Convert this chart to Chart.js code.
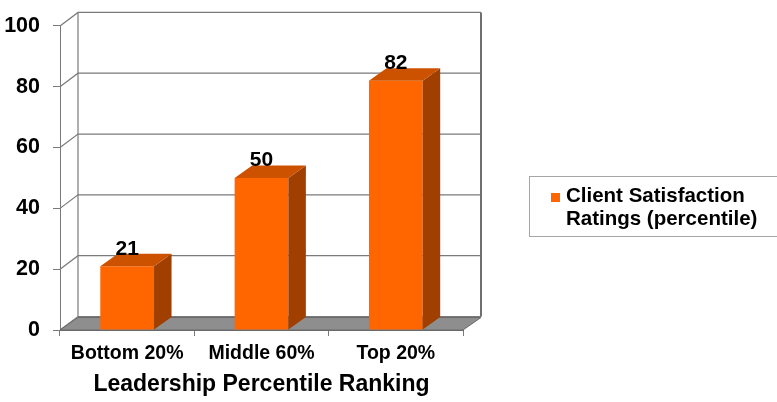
<!DOCTYPE html>
<html>
<head>
<meta charset="utf-8">
<script src="https://cdn.jsdelivr.net/npm/chart.js@4"></script>
<style>
  html, body { margin: 0; padding: 0; background: #fff; }
  #wrap { width: 777px; height: 402px; }
</style>
</head>
<body>
<div id="wrap"><canvas id="leaderChart" width="777" height="402"></canvas></div>
<script>
// data
const categories = ['Bottom 20%', 'Middle 60%', 'Top 20%'];
const satisfaction = [21, 50, 82];
const seriesName = 'Client Satisfaction Ratings (percentile)';
const legendLines = ['Client Satisfaction', 'Ratings (percentile)'];
const yTicks = [0, 20, 40, 60, 80, 100];
const xTitle = 'Leadership Percentile Ranking';

const FONT = "'Liberation Sans', Arial, sans-serif";
Chart.defaults.font.family = FONT;

const orange = '#FF6600';
const orangeTop = '#CC5200';
const orangeSide = '#A03F00';
const gridGray = '#7A7A7A';

// fake 3d: walls, floor, bar sides and tops
const depth3d = {
  id: 'depth3d',
  beforeDatasetsDraw(chart) {
    const { ctx, chartArea: a, scales: { y } } = chart;
    const dx = 18, dy = -13.5;
    ctx.save();
    ctx.strokeStyle = gridGray;
    ctx.lineWidth = 1.2;
    y.ticks.forEach(t => {
      const yy = y.getPixelForValue(t.value);
      ctx.beginPath();
      ctx.moveTo(a.left, yy);
      ctx.lineTo(a.left + dx, yy + dy);
      ctx.lineTo(a.right + dx, yy + dy);
      ctx.stroke();
    });
    // back wall edges
    ctx.beginPath();
    ctx.moveTo(a.left + dx, a.top + dy);
    ctx.lineTo(a.left + dx, a.bottom + dy);
    ctx.stroke();
    ctx.lineWidth = 2;
    ctx.strokeStyle = '#707070';
    ctx.beginPath();
    ctx.moveTo(a.right + dx, a.top + dy);
    ctx.lineTo(a.right + dx, a.bottom + dy);
    ctx.stroke();
    // floor
    const fdy = -12.5;
    ctx.fillStyle = '#8E8E8E';
    ctx.strokeStyle = '#6A6A6A';
    ctx.lineWidth = 1;
    ctx.beginPath();
    ctx.moveTo(a.left, a.bottom);
    ctx.lineTo(a.right, a.bottom);
    ctx.lineTo(a.right + dx, a.bottom + fdy);
    ctx.lineTo(a.left + dx, a.bottom + fdy);
    ctx.closePath();
    ctx.fill();
    ctx.stroke();
    ctx.restore();
  },
  afterDatasetsDraw(chart) {
    const { ctx } = chart;
    const bdx = 17.5, bdy = -12.5;
    const meta = chart.getDatasetMeta(0);
    ctx.save();
    meta.data.forEach((bar, i) => {
      const p = bar.getProps(['x', 'y', 'base', 'width'], true);
      const l = p.x - p.width / 2, r = p.x + p.width / 2;
      // side
      ctx.fillStyle = orangeSide;
      ctx.beginPath();
      ctx.moveTo(r, p.y);
      ctx.lineTo(r + bdx, p.y + bdy);
      ctx.lineTo(r + bdx, p.base + bdy);
      ctx.lineTo(r, p.base);
      ctx.closePath();
      ctx.fill();
      // top
      ctx.fillStyle = orangeTop;
      ctx.beginPath();
      ctx.moveTo(l, p.y);
      ctx.lineTo(l + bdx, p.y + bdy);
      ctx.lineTo(r + bdx, p.y + bdy);
      ctx.lineTo(r, p.y);
      ctx.closePath();
      ctx.fill();
      // value label
      ctx.fillStyle = '#000';
      ctx.font = 'bold 21px ' + FONT;
      ctx.textAlign = 'center';
      ctx.textBaseline = 'alphabetic';
      ctx.fillText(String(chart.data.datasets[0].data[i]), p.x, p.y + bdy + 1);
    });
    ctx.restore();
  },
  afterDraw(chart) {
    // legend box on the right
    const { ctx } = chart;
    ctx.save();
    ctx.strokeStyle = '#A6A6A6';
    ctx.lineWidth = 1;
    ctx.strokeRect(529.5, 176.5, 260, 60);
    ctx.fillStyle = orange;
    ctx.fillRect(551, 193, 9, 9);
    ctx.fillStyle = '#000';
    ctx.font = 'bold 20.5px ' + FONT;
    ctx.textAlign = 'left';
    ctx.textBaseline = 'alphabetic';
    legendLines.forEach((line, i) => ctx.fillText(line, 566, 201.5 + i * 23.5));
    ctx.restore();
  }
};

new Chart(document.getElementById('leaderChart'), {
  type: 'bar',
  data: {
    labels: categories,
    datasets: [{
      label: seriesName,
      data: satisfaction,
      backgroundColor: orange,
      borderWidth: 0,
      categoryPercentage: 1,
      barPercentage: 0.4
    }]
  },
  options: {
    responsive: false,
    animation: false,
    events: [],
    layout: { padding: { top: 17, right: 314, left: 0, bottom: 0 } },
    plugins: {
      legend: { display: false },
      tooltip: { enabled: false }
    },
    scales: {
      y: {
        min: yTicks[0],
        max: yTicks[yTicks.length - 1],
        afterBuildTicks: s => { s.ticks = yTicks.map(v => ({ value: v })); },
        afterFit: s => { s.width = 60; },
        ticks: { color: '#000', font: { size: 21.5, weight: 'bold' }, padding: 13 },
        grid: { drawOnChartArea: false, tickLength: 7, color: gridGray },
        border: { color: gridGray }
      },
      x: {
        afterFit: s => { s.height = 72; },
        ticks: { color: '#000', font: { size: 19.5, weight: 'bold' }, padding: 6 },
        grid: { drawOnChartArea: false, tickLength: 6, color: gridGray, offset: true },
        border: { color: '#6A6A6A' },
        title: {
          display: true,
          text: xTitle,
          color: '#000',
          font: { size: 23, weight: 'bold' },
          padding: { top: 0, bottom: 4 }
        }
      }
    }
  },
  plugins: [depth3d]
});
</script>
</body>
</html>
